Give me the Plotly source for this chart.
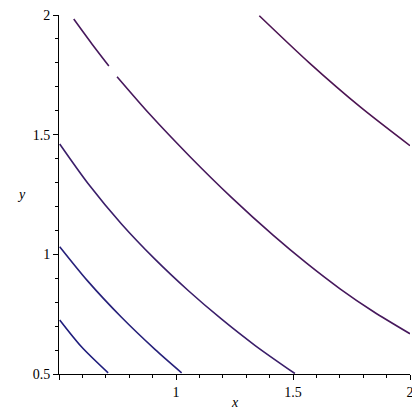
"""Contour-style level curves redrawn with Plotly."""

import plotly.graph_objects as go

# level curves (x, y pairs)
c1_x = [0.503, 0.596, 0.710]
c1_y = [0.726, 0.614, 0.505]

c2_x = [0.503, 0.624, 0.767, 0.910, 1.024]
c2_y = [1.032, 0.887, 0.737, 0.603, 0.505]

c3_x = [0.503, 0.624, 0.767, 0.910, 1.052, 1.195, 1.337, 1.508]
c3_y = [1.461, 1.296, 1.127, 0.980, 0.849, 0.729, 0.620, 0.502]

# curve 4 has a small break near x = 0.73
c4a_x = [0.563, 0.640, 0.713]
c4a_y = [1.983, 1.880, 1.787]
c4b_x = [0.748, 0.888, 1.059, 1.238, 1.416, 1.558, 1.701, 1.843, 2.000]
c4b_y = [1.742, 1.585, 1.409, 1.237, 1.079, 0.963, 0.856, 0.761, 0.668]

c5_x = [1.356, 1.572, 1.786, 2.000]
c5_y = [1.997, 1.798, 1.617, 1.454]

curves = [
    (c1_x, c1_y, "#1e1c7c"),
    (c2_x, c2_y, "#26207a"),
    (c3_x, c3_y, "#3a1e6a"),
    (c4a_x, c4a_y, "#46185c"),
    (c4b_x, c4b_y, "#46185c"),
    (c5_x, c5_y, "#4c1452"),
]

fig = go.Figure()
for xs, ys, col in curves:
    fig.add_trace(
        go.Scatter(
            x=xs,
            y=ys,
            mode="lines",
            line={"color": col, "width": 1.6, "shape": "spline", "smoothing": 0.8},
        )
    )

axis_style = dict(
    showgrid=False,
    zeroline=False,
    showline=True,
    linecolor="black",
    linewidth=1,
    ticks="outside",
    ticklen=5,
    tickcolor="black",
    ticklabeloverflow="allow",
    tickfont={"family": "Liberation Serif", "size": 14, "color": "black"},
    minor={"dtick": 0.1, "ticks": "outside", "ticklen": 3, "tickcolor": "black", "showgrid": False},
)

fig.update_xaxes(range=[0.5, 2], tickvals=[0.5, 1, 1.5, 2], ticktext=["", "1", "1.5", "2"], **axis_style)
fig.update_yaxes(range=[0.5, 2], tickvals=[0.5, 1, 1.5, 2], ticktext=["0.5", "1", "1.5", "2"], **axis_style)

fig.add_annotation(x=0.5, y=-0.105, xref="paper", yref="paper", text="<i>x</i>", showarrow=False,
                   font={"family": "Liberation Serif", "size": 14, "color": "black"})
fig.add_annotation(x=-0.125, y=0.5, xref="paper", yref="paper", text="<i>y</i>", showarrow=False,
                   font={"family": "Liberation Serif", "size": 14, "color": "black"})

# the page adds an 8px body margin, so the figure is a bit smaller than the window
fig.update_layout(
    width=412,
    height=412,
    margin={"l": 51, "r": 10, "t": 7, "b": 46, "autoexpand": False},
    plot_bgcolor="white",
    paper_bgcolor="white",
    showlegend=False,
)

fig.write_html("out.html")
